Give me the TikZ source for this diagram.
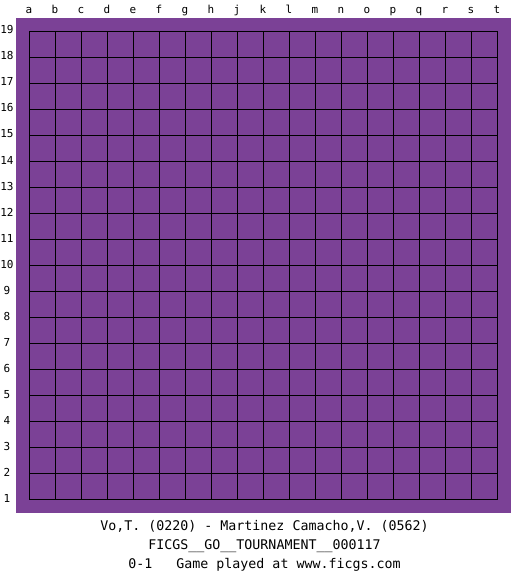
\documentclass[tikz,border=0pt]{standalone}
\usepackage{fontspec}
\setmonofont{DejaVu Sans Mono}
\definecolor{board}{RGB}{123,65,150}
\begin{document}
\begin{tikzpicture}[x=1pt,y=-1pt,
  lbl/.style={font=\ttfamily\fontsize{11}{11}\selectfont, inner sep=0pt, anchor=base},
  caption/.style={font=\ttfamily\fontsize{13.3}{13.3}\selectfont, inner sep=0pt, anchor=base},
  gridline/.style={line width=1pt, draw=black}]
\useasboundingbox[fill=white] (0,0) rectangle (525,575);
\fill[board] (16,18) rectangle (511,513);
\foreach \i in {0,...,18} {
  \draw[gridline] (29+26*\i,31.5) -- (29+26*\i,499.5);
  \draw[gridline] (29,31.5+26*\i) -- (497,31.5+26*\i);
}
\foreach \l [count=\i from 0] in {a,b,c,d,e,f,g,h,j,k,l,m,n,o,p,q,r,s,t} {
  \node[lbl] (col\l) at (29+26*\i,14) {\l};
}
\foreach \i in {0,...,18} {
  \pgfmathtruncatemacro{\r}{19-\i}
  \node[lbl] (row\r) at (7,34+26*\i) {\r};
}
\node[caption] (players) at (264.5,530) {Vo,T. (0220) - Martinez Camacho,V. (0562)};
\node[caption] (event) at (264.5,549) {FICGS\_\_GO\_\_TOURNAMENT\_\_000117};
\node[caption] (result) at (264.5,568) {0-1\ \ \ Game played at www.ficgs.com};
\end{tikzpicture}
\end{document}
